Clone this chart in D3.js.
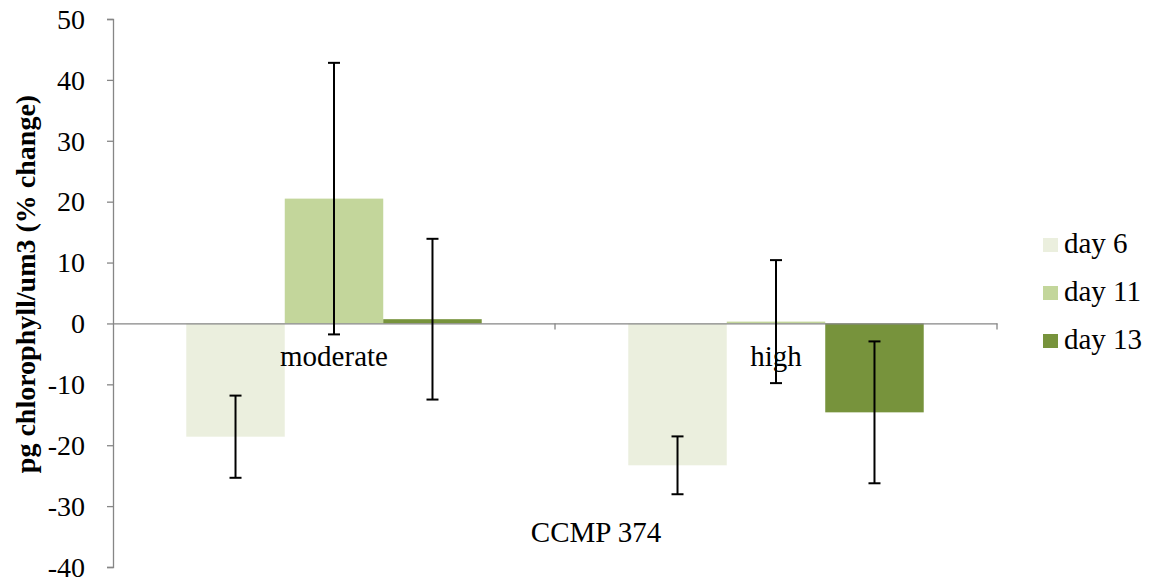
<!DOCTYPE html>
<html>
<head>
<meta charset="utf-8">
<script src="https://cdn.jsdelivr.net/npm/d3@7"></script>
<style>
  body { margin: 0; background: #fff; }
  #chart, #chart text { font-family: 'Liberation Serif', 'Times New Roman', Tinos, Times !important; }
</style>
</head>
<body>
<svg id="chart" width="1149" height="584" font-family="Liberation Serif"></svg>
<script>
// data
var categories = ['moderate', 'high'];
var seriesNames = ['day 6', 'day 11', 'day 13'];
var seriesColors = ['#EBEFDE', '#C3D69B', '#77933C'];
var day6 = [-18.6, -23.3];
var day11 = [20.5, 0.3];
var day13 = [0.7, -14.6];
var err6 = [6.75, 4.75];
var err11 = [22.3, 10.1];
var err13 = [13.2, 11.65];
var yTicks = [50, 40, 30, 20, 10, 0, -10, -20, -30, -40];
var groupLabel = 'CCMP 374';
var yTitle = 'pg chlorophyll/um3 (% change)';

var values = [day6, day11, day13];
var errors = [err6, err11, err13];

var svg = d3.select('#chart');
var plot = {left: 113, right: 997, top: 19, bottom: 567};

var x = d3.scaleBand().domain(categories).range([plot.left, plot.right]).paddingInner(0).paddingOuter(0);
var xs = d3.scaleBand().domain(seriesNames).range([0, x.bandwidth()]).paddingOuter(0.744).paddingInner(0);
var y = d3.scaleLinear().domain([-40, 50]).range([plot.bottom, plot.top]);

// bars
var rows = [];
categories.forEach(function(c, ci){
	seriesNames.forEach(function(s, si){
		rows.push({cat: c, ser: s, si: si, v: values[si][ci], e: errors[si][ci]});
	});
});

svg.append('g').selectAll('rect')
	.data(rows)
	.enter().append('rect')
	.attr('x', function(d){ return x(d.cat) + xs(d.ser); })
	.attr('width', xs.bandwidth())
	.attr('y', function(d){ return y(Math.max(0, d.v)); })
	.attr('height', function(d){ return Math.abs(y(d.v) - y(0)); })
	.style('fill', function(d){ return seriesColors[d.si]; });

// y axis
var yAxis = d3.axisLeft(y).tickValues(yTicks).tickSize(6).tickPadding(22)
	.tickFormat(function(d){ return String(d); });
var yG = svg.append('g').attr('transform', 'translate(' + plot.left + ',0)').call(yAxis)
	.attr('font-family', null).attr('font-size', null);
yG.select('.domain').attr('stroke', '#868686').attr('stroke-width', 1.3);
yG.selectAll('.tick line').attr('stroke', '#868686').attr('stroke-width', 1.3);
yG.selectAll('.tick text')
	.attr('font-size', 28)
	.attr('fill', '#000')
	.attr('dy', '0.33em');

// x axis at zero
var xAxis = d3.axisBottom(x).tickSize(0).tickFormat('');
var xG = svg.append('g').attr('transform', 'translate(0,' + y(0) + ')').call(xAxis);
xG.select('.domain').attr('stroke', '#868686').attr('stroke-width', 1.3);
// category boundary ticks
svg.append('g').selectAll('line')
	.data(categories.slice(1).concat(['end']))
	.enter().append('line')
	.attr('x1', function(d){ return d === 'end' ? plot.right : x(d); })
	.attr('x2', function(d){ return d === 'end' ? plot.right : x(d); })
	.attr('y1', y(0)).attr('y2', y(0) + 6)
	.attr('stroke', '#868686').attr('stroke-width', 1.3);

// error bars
var eb = svg.append('g').selectAll('g')
	.data(rows)
	.enter().append('g')
	.attr('transform', function(d){ return 'translate(' + (x(d.cat) + xs(d.ser) + xs.bandwidth() / 2) + ',0)'; });
eb.append('line')
	.attr('y1', function(d){ return y(d.v + d.e); })
	.attr('y2', function(d){ return y(d.v - d.e); })
	.attr('stroke', '#000').attr('stroke-width', 2);
eb.append('line')
	.attr('x1', -6).attr('x2', 6)
	.attr('y1', function(d){ return y(d.v + d.e); })
	.attr('y2', function(d){ return y(d.v + d.e); })
	.attr('stroke', '#000').attr('stroke-width', 2);
eb.append('line')
	.attr('x1', -6).attr('x2', 6)
	.attr('y1', function(d){ return y(d.v - d.e); })
	.attr('y2', function(d){ return y(d.v - d.e); })
	.attr('stroke', '#000').attr('stroke-width', 2);

// category labels
svg.append('g').selectAll('text')
	.data(categories)
	.enter().append('text')
	.attr('x', function(d){ return x(d) + x.bandwidth() / 2; })
	.attr('y', y(0) + 43)
	.attr('text-anchor', 'middle')
	.attr('font-size', 29)
	.text(function(d){ return d; });

svg.append('text')
	.attr('x', 596)
	.attr('y', 542)
	.attr('text-anchor', 'middle')
	.attr('font-size', 29)
	.text(groupLabel);

// y title
svg.append('text')
	.attr('transform', 'translate(35,284) rotate(-90)')
	.attr('text-anchor', 'middle')
	.attr('font-size', 28)
	.attr('font-weight', 'bold')
	.text(yTitle);

// legend
var lg = svg.append('g').selectAll('g')
	.data(seriesNames)
	.enter().append('g')
	.attr('transform', function(d, i){ return 'translate(1043,' + (238 + i * 48) + ')'; });
lg.append('rect')
	.attr('x', 0).attr('y', 0).attr('width', 15).attr('height', 14)
	.style('fill', function(d, i){ return seriesColors[i]; });
lg.append('text')
	.attr('x', 21).attr('y', 15)
	.attr('font-size', 29)
	.text(function(d){ return d; });
</script>
</body>
</html>
